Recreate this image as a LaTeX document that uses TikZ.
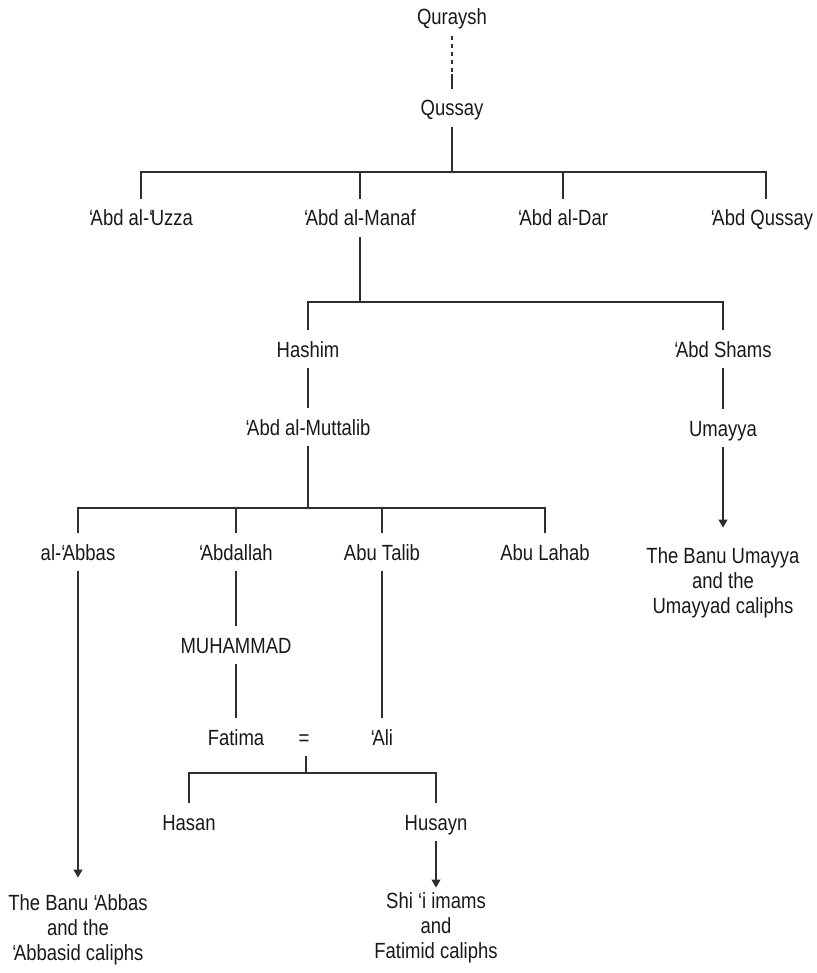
\documentclass[tikz,border=0pt]{standalone}
\usepackage{fontspec}
\setmainfont[FakeStretch=0.84]{Liberation Sans}
\usetikzlibrary{arrows.meta}
\newcommand{\ayn}{‘\kern-2.5pt}
\tikzset{
	kin/.style={inner sep=0pt, minimum height=38pt, text height=16pt, text depth=0pt, text=black!90},
	desc/.style={align=center, inner sep=0pt, text=black!90},
	famline/.style={draw=black!82, line width=1.1pt},
	descent/.style={famline, -{Triangle[length=8pt,width=9pt]}}
}

\begin{document}
\begin{tikzpicture}[x=1pt, y=-1pt, font=\fontsize{22}{25}\selectfont]
		%%%%% START %%%%%
		\useasboundingbox (0, 0) rectangle (816, 973);
		
		\node[kin] (quraysh) at (452, 17) {Quraysh};
		\node[kin] (qussay) at (452, 108) {Qussay};
		\coordinate (gap) at (452, 74);
		\draw[famline, dash pattern=on 4pt off 4pt] (quraysh.south) -- (gap);
		\draw[famline] (gap) -- (qussay.north);
		
		\node[kin] (uzza) at (141, 218) {\ayn Abd al-\ayn Uzza};
		\node[kin] (manaf) at (360, 218) {\ayn Abd al-Manaf};
		\node[kin] (dar) at (563, 218) {\ayn Abd al-Dar};
		\node[kin] (abdqussay) at (762, 218) {\ayn Abd Qussay};
		\coordinate (bar1) at (452, 172);
		\draw[famline] (qussay.south) -- (bar1);
		\draw[famline] (uzza.north) |- ([xshift=4pt]abdqussay.north |- bar1) -- ([xshift=4pt]abdqussay.north);
		\draw[famline] (manaf.north) -- (manaf.north |- bar1);
		\draw[famline] (dar.north) -- (dar.north |- bar1);
		
		\node[kin] (hashim) at (308, 349) {Hashim};
		\node[kin] (shams) at (723, 349) {\ayn Abd Shams};
		\coordinate (bar2) at (360, 302);
		\draw[famline] (manaf.south) -- (bar2);
		\draw[famline] (hashim.north) |- (shams.north |- bar2) -- (shams.north);
		
		\node[kin] (muttalib) at (308, 427) {\ayn Abd al-Muttalib};
		\draw[famline] (hashim.south) -- (muttalib.north);
		\node[kin] (umayya) at (723, 428) {Umayya};
		\draw[famline] (shams.south) -- (umayya.north);
		\node[desc] (banuumayya) at (723, 583) {The Banu Umayya\\and the\\Umayyad caliphs};
		\draw[descent, shorten >=20pt] (umayya.south) -- (banuumayya.north);
		
		\node[kin] (abbas) at (78, 552) {al-\ayn Abbas};
		\node[kin] (abdallah) at (236, 552) {\ayn Abdallah};
		\node[kin] (talib) at (382, 552) {Abu Talib};
		\node[kin] (lahab) at (545, 552) {Abu Lahab};
		\coordinate (bar3) at (308, 508);
		\draw[famline] (muttalib.south) -- (bar3);
		\draw[famline] (abbas.north) |- (lahab.north |- bar3) -- (lahab.north);
		\draw[famline] (abdallah.north) -- (abdallah.north |- bar3);
		\draw[famline] (talib.north) -- (talib.north |- bar3);
		
		\node[desc] (banuabbas) at (78, 930) {The Banu \ayn Abbas\\and the\\\ayn Abbasid caliphs};
		\draw[descent, shorten >=17pt] (abbas.south) -- (banuabbas.north);
		
		\node[kin] (muhammad) at (236, 645) {MUHAMMAD};
		\draw[famline] (abdallah.south) -- (muhammad.north);
		\node[kin] (fatima) at (236, 737) {Fatima};
		\node[kin] (marriage) at (304, 737) {=};
		\node[kin] (ali) at (382, 737) {\ayn Ali};
		\draw[famline] (muhammad.south) -- (fatima.north);
		\draw[famline] (talib.south) -- (ali.north);
		
		\node[kin] (hasan) at (189, 822) {Hasan};
		\node[kin] (husayn) at (436, 822) {Husayn};
		\coordinate (bar4) at (306, 773);
		\draw[famline] (marriage.south -| bar4) -- (bar4);
		\draw[famline] (hasan.north) |- (husayn.north |- bar4) -- (husayn.north);
		
		\node[desc] (shii) at (436, 928) {Shi ‘i imams\\and\\Fatimid caliphs};
		\draw[descent, shorten >=5pt] (husayn.south) -- (shii.north);
		%%%%% END %%%%%
	\end{tikzpicture}
\end{document}
